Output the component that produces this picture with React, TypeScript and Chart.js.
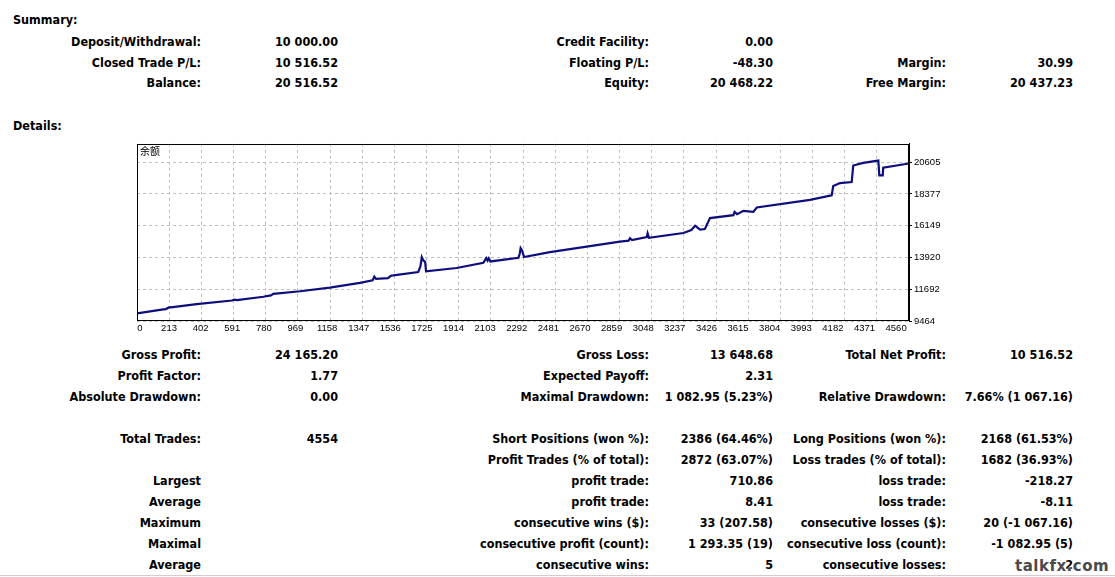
import React, { useEffect, useRef } from "react";
import { Chart, registerables } from "chart.js";

Chart.register(...registerables);

// ---- chart data ----
const tradeNo = [
  0, 155, 170, 191, 200, 352, 560, 575, 590, 745, 790, 804, 962, 1138, 1315, 1390, 1400, 1410, 1480, 1500,
  1512, 1659, 1672, 1680, 1690, 1700, 1705, 1886, 2043, 2060, 2068, 2075, 2085, 2250, 2258, 2263, 2272, 2283,
  2436, 2849, 2900, 2908, 2920, 3007, 3012, 3020, 3223, 3270, 3292, 3310, 3321, 3350, 3380, 3518, 3525, 3540,
  3577, 3636, 3656, 3970, 4098, 4107, 4147, 4216, 4225, 4284, 4373, 4379, 4399, 4402, 4554,
];
const balance = [
  10000, 10279, 10300, 10430, 10420, 10648, 10900, 10960, 10930, 11163, 11260, 11372, 11553, 11810, 12138, 12320,
  12580, 12420, 12470, 12650, 12660, 12904, 13300, 13948, 13700, 13600, 12945, 13182, 13551, 13870, 13700, 13860,
  13642, 13900, 14200, 14575, 14400, 13948, 14296, 15034, 15100, 15271, 15140, 15350, 15620, 15300, 15640, 15850,
  16149, 15980, 15870, 15919, 16684, 16893, 17123, 16963, 17193, 17123, 17430, 17959, 18286, 18934, 19143, 19213,
  20375, 20563, 20723, 19679, 19679, 20215, 20517,
];
const xTickLabels = [
  "0", "213", "402", "591", "780", "969", "1158", "1347", "1536", "1725", "1914", "2103", "2292", "2481", "2670",
  "2859", "3048", "3237", "3426", "3615", "3804", "3993", "4182", "4371", "4560",
];
const yTickValues = [9464, 11692, 13920, 16149, 18377, 20605];
const totalTrades = 4554;
const yMax = 21905;
const gridDivisions = 24;
const chartLabel = "余额";

// ---- report text ----
const summaryRows: string[][] = [
  ["Deposit/Withdrawal:", "10 000.00", "Credit Facility:", "0.00", "", ""],
  ["Closed Trade P/L:", "10 516.52", "Floating P/L:", "-48.30", "Margin:", "30.99"],
  ["Balance:", "20 516.52", "Equity:", "20 468.22", "Free Margin:", "20 437.23"],
];
const summaryY = [42, 63, 83];

const detailRows: string[][] = [
  ["Gross Profit:", "24 165.20", "Gross Loss:", "13 648.68", "Total Net Profit:", "10 516.52"],
  ["Profit Factor:", "1.77", "Expected Payoff:", "2.31", "", ""],
  ["Absolute Drawdown:", "0.00", "Maximal Drawdown:", "1 082.95 (5.23%)", "Relative Drawdown:", "7.66% (1 067.16)"],
  ["Total Trades:", "4554", "Short Positions (won %):", "2386 (64.46%)", "Long Positions (won %):", "2168 (61.53%)"],
  ["", "", "Profit Trades (% of total):", "2872 (63.07%)", "Loss trades (% of total):", "1682 (36.93%)"],
  ["Largest", "", "profit trade:", "710.86", "loss trade:", "-218.27"],
  ["Average", "", "profit trade:", "8.41", "loss trade:", "-8.11"],
  ["Maximum", "", "consecutive wins ($):", "33 (207.58)", "consecutive losses ($):", "20 (-1 067.16)"],
  ["Maximal", "", "consecutive profit (count):", "1 293.35 (19)", "consecutive loss (count):", "-1 082.95 (5)"],
  ["Average", "", "consecutive wins:", "5", "consecutive losses:", "2"],
];
const detailY = [355, 376, 397, 439, 460, 481, 502, 523, 544, 565];

const colRight = [201, 338, 649, 773, 946, 1073];
const FONT = '"DejaVu Sans Condensed", "DejaVu Sans", sans-serif';
const FS = 12.5;
const W = 1115;

function Txt({ text, right, y }: { text: string; right: number; y: number }) {
  return (
    <div
      style={{
        position: "absolute",
        right: W - right,
        top: y - 8,
        height: 16,
        lineHeight: "16px",
        whiteSpace: "nowrap",
        fontFamily: FONT,
        fontWeight: "bold",
        fontSize: FS,
        color: "#000",
      }}
    >
      {text}
    </div>
  );
}

function BalanceChart() {
  const ref = useRef<HTMLCanvasElement | null>(null);
  useEffect(() => {
    if (!ref.current) return;
    const framePlugin = {
      id: "frame",
      afterDraw(chart: any) {
        const { ctx, chartArea } = chart;
        ctx.save();
        ctx.strokeStyle = "#000";
        ctx.lineWidth = 1;
        ctx.strokeRect(
          Math.round(chartArea.left) + 0.5,
          Math.round(chartArea.top) + 0.5,
          Math.round(chartArea.right - chartArea.left) - 1,
          Math.round(chartArea.bottom - chartArea.top) - 1
        );
        ctx.fillStyle = "#000";
        ctx.font = '10px "Noto Sans CJK SC", sans-serif';
        ctx.textBaseline = "top";
        ctx.fillText(chartLabel, chartArea.left + 3, chartArea.top + 3);
        ctx.restore();
      },
    };
    const chart = new Chart(ref.current, {
      type: "line",
      data: {
        datasets: [
          {
            data: tradeNo.map((t, i) => ({ x: t, y: balance[i] })),
            borderColor: "#0d0d7c",
            borderWidth: 2.2,
            pointRadius: 0,
            tension: 0,
            fill: false,
          },
        ],
      },
      options: {
        responsive: false,
        animation: false,
        layout: { padding: { left: 7, top: 6, right: 11, bottom: 7 } },
        plugins: { legend: { display: false }, tooltip: { enabled: false }, title: { display: false } },
        scales: {
          x: {
            type: "linear",
            position: "bottom",
            weight: 0,
            min: 0,
            max: totalTrades,
            afterBuildTicks: (s: any) => {
              s.ticks = Array.from({ length: gridDivisions + 1 }, (_, i) => ({ value: (i * totalTrades) / gridDivisions }));
            },
            afterFit: (s: any) => {
              s.height = 0;
            },
            ticks: { display: false },
            grid: { color: "#c0c0c0", drawTicks: false, lineWidth: 1 },
            border: { display: false, dash: [3, 3] },
          },
          x2: {
            type: "linear",
            position: "bottom",
            weight: 1,
            min: 21.5,
            max: 4637,
            afterBuildTicks: (s: any) => {
              s.ticks = xTickLabels.map((l) => ({ value: Math.max(Number(l), s.min + 18) }));
            },
            afterFit: (s: any) => {
              s.height = 14;
            },
            ticks: {
              autoSkip: false,
              maxRotation: 0,
              minRotation: 0,
              padding: 2,
              color: "#000",
              font: { family: "Liberation Sans", size: 9.5 },
              callback: (_v: any, i: number) => xTickLabels[i],
            },
            grid: { display: false, drawTicks: false },
            border: { display: false },
          },
          y: {
            type: "linear",
            position: "right",
            min: yTickValues[0],
            max: yMax,
            afterBuildTicks: (s: any) => {
              s.ticks = yTickValues.map((v) => ({ value: v }));
            },
            afterFit: (s: any) => {
              s.width = 40;
            },
            ticks: {
              padding: 2,
              color: "#000",
              font: { family: "Liberation Sans", size: 9.5 },
              callback: (v: any) => String(v),
            },
            grid: { color: "#c0c0c0", tickColor: "#000", tickLength: 3, drawTicks: true },
            border: { color: "#000", dash: [3, 3] },
          },
        },
      },
      plugins: [framePlugin],
    } as any);
    return () => chart.destroy();
  }, []);
  return (
    <canvas
      ref={ref}
      width={830}
      height={206}
      style={{ position: "absolute", left: 130, top: 136, width: 830, height: 206 }}
    />
  );
}

export default function App() {
  return (
    <div style={{ position: "absolute", left: 0, top: 0, width: W, height: 577, background: "#fff", overflow: "hidden" }}>
      <div style={{ position: "absolute", left: 13, top: 12, lineHeight: "16px", fontFamily: FONT, fontWeight: "bold", fontSize: FS }}>
        Summary:
      </div>
      {summaryRows.map((row, r) =>
        row.map((t, c) => (t ? <Txt key={`s${r}-${c}`} text={t} right={colRight[c]} y={summaryY[r]} /> : null))
      )}
      <div style={{ position: "absolute", left: 13, top: 118, lineHeight: "16px", fontFamily: FONT, fontWeight: "bold", fontSize: FS }}>
        Details:
      </div>
      <BalanceChart />
      {detailRows.map((row, r) =>
        row.map((t, c) => (t ? <Txt key={`d${r}-${c}`} text={t} right={colRight[c]} y={detailY[r]} /> : null))
      )}
      <div
        style={{
          position: "absolute",
          left: 1015,
          top: 557,
          lineHeight: "18px",
          fontFamily: '"DejaVu Sans", sans-serif',
          fontWeight: "bold",
          fontSize: 15,
          color: "#4a4a4a",
          textShadow: "0 0 2px #fff, 0 0 2px #fff",
          letterSpacing: 0.5,
        }}
      >
        talkfx.com
      </div>
      <div style={{ position: "absolute", left: 0, top: 575, width: W, height: 1, background: "#cfcfcf" }} />
    </div>
  );
}
